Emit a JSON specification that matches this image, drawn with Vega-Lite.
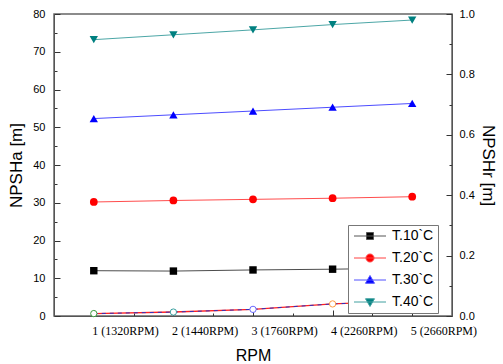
{
  "$schema": "https://vega.github.io/schema/vega-lite/v6.json",
  "width": 398,
  "height": 302,
  "autosize": {"type": "none"},
  "padding": {"left": 54, "top": 14, "right": 51, "bottom": 48},
  "background": "white",
  "config": {
    "view": {"stroke": "#666", "strokeWidth": 1.5},
    "axis": {
      "grid": false,
      "domainColor": "#555",
      "tickColor": "#333",
      "labelColor": "black",
      "labelFont": "Liberation Sans",
      "labelFontSize": 11,
      "titleFont": "Liberation Sans",
      "titleFontWeight": "normal",
      "titleColor": "black",
      "labelOverlap": false,
      "labelFlush": false
    },
    "legend": {
      "title": null,
      "orient": "none",
      "legendX": 294,
      "legendY": 211,
      "symbolSize": 100,
      "symbolOffset": 11,
      "symbolStrokeWidth": 1,
      "symbolOpacity": 1,
      "labelFont": "Liberation Sans",
      "labelFontSize": 14,
      "labelColor": "black",
      "labelOffset": 15,
      "padding": 4,
      "rowPadding": 8,
      "strokeColor": "#777",
      "fillColor": "white",
      "cornerRadius": 0
    }
  },
  "datasets": {
    "a": [
      {"rpm": 1, "series": "T.10`C", "v": 12.0},
      {"rpm": 2, "series": "T.10`C", "v": 11.9},
      {"rpm": 3, "series": "T.10`C", "v": 12.2},
      {"rpm": 4, "series": "T.10`C", "v": 12.4},
      {"rpm": 5, "series": "T.10`C", "v": 12.7},
      {"rpm": 1, "series": "T.20`C", "v": 30.2},
      {"rpm": 2, "series": "T.20`C", "v": 30.6},
      {"rpm": 3, "series": "T.20`C", "v": 30.9},
      {"rpm": 4, "series": "T.20`C", "v": 31.2},
      {"rpm": 5, "series": "T.20`C", "v": 31.6},
      {"rpm": 1, "series": "T.30`C", "v": 52.3},
      {"rpm": 2, "series": "T.30`C", "v": 53.3},
      {"rpm": 3, "series": "T.30`C", "v": 54.3},
      {"rpm": 4, "series": "T.30`C", "v": 55.3},
      {"rpm": 5, "series": "T.30`C", "v": 56.3},
      {"rpm": 1, "series": "T.40`C", "v": 73.2},
      {"rpm": 2, "series": "T.40`C", "v": 74.5},
      {"rpm": 3, "series": "T.40`C", "v": 75.8},
      {"rpm": 4, "series": "T.40`C", "v": 77.2},
      {"rpm": 5, "series": "T.40`C", "v": 78.4}
    ],
    "r": [
      {"rpm": 1, "pt": "p1", "v": 0.008},
      {"rpm": 2, "pt": "p2", "v": 0.013},
      {"rpm": 3, "pt": "p3", "v": 0.022},
      {"rpm": 4, "pt": "p4", "v": 0.04},
      {"rpm": 5, "pt": "p5", "v": 0.05}
    ]
  },
  "encoding": {
    "x": {
      "field": "rpm",
      "type": "quantitative",
      "scale": {"domain": [0.5, 5.5], "nice": false, "zero": false},
      "axis": {
        "title": "RPM",
        "titleFontSize": 16,
        "titlePadding": 8,
        "values": [1, 1.5, 2, 2.5, 3, 3.5, 4, 4.5, 5],
        "labelExpr": "datum.value === 1 ? '1 (1320RPM)' : datum.value === 2 ? '2 (1440RPM)' : datum.value === 3 ? '3 (1760RPM)' : datum.value === 4 ? '4 (2260RPM)' : datum.value === 5 ? '5 (2660RPM)' : ''",
        "labelFont": "Liberation Serif",
        "labelFontSize": 12,
        "labelAlign": "left",
        "labelOffset": -2,
        "labelPadding": 15,
        "tickSize": {"condition": {"test": "datum.value % 1 === 0", "value": -6}, "value": -3}
      }
    }
  },
  "layer": [
    {
      "data": {"name": "a"},
      "encoding": {
        "y": {
          "field": "v",
          "type": "quantitative",
          "scale": {"domain": [0, 80], "nice": false},
          "axis": {
            "orient": "left",
            "title": "NPSHa [m]",
            "titleFontSize": 17,
            "titlePadding": 7,
            "values": [0, 5, 10, 15, 20, 25, 30, 35, 40, 45, 50, 55, 60, 65, 70, 75, 80],
            "labelExpr": "datum.value % 10 === 0 ? datum.label : ''",
            "labelPadding": 15,
            "tickSize": {"condition": {"test": "datum.value % 10 === 0", "value": -6}, "value": -3}
          }
        }
      },
      "layer": [
        {
          "mark": {"type": "line", "strokeWidth": 1, "opacity": 0.7},
          "encoding": {
            "color": {
              "field": "series",
              "type": "nominal",
              "scale": {"domain": ["T.10`C", "T.20`C", "T.30`C", "T.40`C"], "range": ["#000000", "#ff0000", "#0000ff", "#008080"]},
              "legend": null
            }
          }
        },
        {
          "transform": [{"filter": "datum.series === 'T.10`C'"}],
          "mark": {"type": "point", "shape": "square", "filled": true, "size": 55, "opacity": 1},
          "encoding": {"color": {"field": "series", "type": "nominal", "legend": null}}
        },
        {
          "transform": [{"filter": "datum.series === 'T.20`C'"}],
          "mark": {"type": "point", "shape": "circle", "filled": true, "size": 60, "opacity": 1},
          "encoding": {"color": {"field": "series", "type": "nominal", "legend": null}}
        },
        {
          "transform": [{"filter": "datum.series === 'T.30`C'"}],
          "mark": {"type": "point", "shape": "triangle-up", "filled": true, "size": 70, "opacity": 1},
          "encoding": {"color": {"field": "series", "type": "nominal", "legend": null}}
        },
        {
          "transform": [{"filter": "datum.series === 'T.40`C'"}],
          "mark": {"type": "point", "shape": "triangle-down", "filled": true, "size": 70, "opacity": 1},
          "encoding": {"color": {"field": "series", "type": "nominal", "legend": null}}
        },
        {
          "mark": {"type": "point", "filled": true, "opacity": 0},
          "encoding": {
            "fill": {
              "field": "series",
              "type": "nominal",
              "scale": {"domain": ["T.10`C", "T.20`C", "T.30`C", "T.40`C"], "range": ["#000000", "#ff0000", "#0000ff", "#008080"]},
              "legend": {}
            },
            "stroke": {
              "field": "series",
              "type": "nominal",
              "scale": {"domain": ["T.10`C", "T.20`C", "T.30`C", "T.40`C"], "range": ["#555555", "#ff4040", "#5050ff", "#40a0a0"]},
              "legend": {}
            },
            "shape": {
              "field": "series",
              "type": "nominal",
              "scale": {
                "domain": ["T.10`C", "T.20`C", "T.30`C", "T.40`C"],
                "range": [
                  "M-3.2,0H3.2M-0.7,-0.7H0.7V0.7H-0.7Z",
                  "M-3.2,0H3.2M0.8,0A0.8,0.8,0,1,1,-0.8,0A0.8,0.8,0,1,1,0.8,0Z",
                  "M-3.2,0H3.2M0,-0.9L0.9,0.65L-0.9,0.65Z",
                  "M-3.2,0H3.2M0,0.9L0.9,-0.65L-0.9,-0.65Z"
                ]
              },
              "legend": {}
            }
          }
        }
      ]
    },
    {
      "data": {"name": "r"},
      "encoding": {
        "y": {
          "field": "v",
          "type": "quantitative",
          "scale": {"domain": [0, 1], "nice": false},
          "axis": {
            "orient": "right",
            "title": "NPSHr [m]",
            "titleFontSize": 17,
            "titlePadding": 4,
            "values": [0, 0.1, 0.2, 0.3, 0.4, 0.5, 0.6, 0.7, 0.8, 0.9, 1],
            "format": ".1f",
            "labelExpr": "round(datum.value * 10) % 2 === 0 ? datum.label : ''",
            "labelPadding": 13,
            "tickSize": {"condition": {"test": "round(datum.value * 10) % 2 === 0", "value": -6}, "value": -3}
          }
        }
      },
      "layer": [
        {"mark": {"type": "line", "color": "#ff2020", "strokeWidth": 1.4}},
        {"mark": {"type": "line", "color": "#3030c0", "strokeWidth": 1, "strokeDash": [4, 4]}},
        {
          "mark": {"type": "point", "shape": "circle", "filled": false, "fill": "white", "size": 40, "strokeWidth": 1, "opacity": 1},
          "encoding": {
            "color": {
              "field": "pt",
              "type": "nominal",
              "scale": {"domain": ["p1", "p2", "p3", "p4", "p5"], "range": ["#3c9c3c", "#3aa0a0", "#6a6aff", "#ff9a40", "#a070ff"]},
              "legend": null
            }
          }
        }
      ]
    }
  ],
  "resolve": {"scale": {"y": "independent", "color": "independent"}}
}
